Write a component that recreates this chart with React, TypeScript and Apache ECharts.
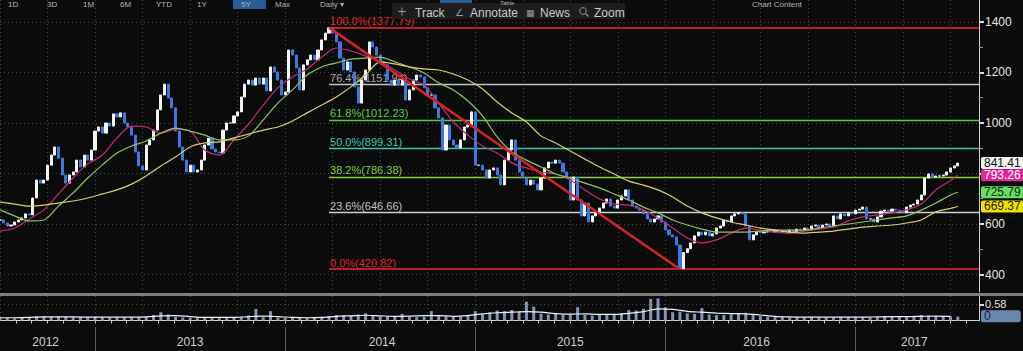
import React, { useEffect, useRef } from "react";
import * as echarts from "echarts";

// ---- time frame (decimal years) ----
const START_YEAR = 2012.5;
const WEEKS_PER_YEAR = 52;
const X_MIN = 2012.5;
const X_MAX = 2017.65;
const MA_STEP = 4; // weeks between moving-average samples
const VOL_STEP = 2; // weeks between volume samples
const PEAK_WEEK = 90;
const TROUGH_WEEK = 186;

// ---- weekly closes ----
const closes = [
  616, 604, 592, 596, 608, 616, 624, 640, 636, 703,
  774, 762, 774, 833, 873, 905, 861, 794, 762, 794,
  806, 853, 826, 873, 853, 893, 968, 984, 960, 1000,
  988, 1036, 1024, 1040, 1000, 984, 952, 885, 830, 814,
  913, 933, 972, 1052, 1111, 1154, 1099, 1060, 968, 905,
  853, 806, 833, 806, 814, 853, 913, 940, 897, 885,
  881, 972, 1000, 1000, 1028, 1044, 1103, 1154, 1170, 1150,
  1178, 1154, 1178, 1127, 1222, 1202, 1170, 1111, 1123, 1289,
  1269, 1218, 1131, 1230, 1250, 1269, 1250, 1289, 1329, 1356,
  1377, 1356, 1321, 1257, 1210, 1242, 1202, 1143, 1079, 1170,
  1210, 1321, 1301, 1269, 1242, 1230, 1170, 1150, 1170, 1150,
  1170, 1091, 1131, 1170, 1190, 1182, 1139, 1111, 1111, 1060,
  1020, 893, 992, 933, 913, 901, 933, 984, 992, 1044,
  833, 833, 814, 782, 814, 822, 794, 755, 853, 893,
  933, 853, 806, 782, 755, 774, 758, 735, 782, 822,
  845, 841, 853, 841, 806, 782, 695, 786, 695, 632,
  683, 608, 632, 644, 663, 683, 699, 671, 663, 695,
  711, 735, 695, 671, 663, 655, 640, 620, 608, 620,
  632, 608, 576, 557, 549, 517, 423, 487, 502, 525,
  553, 568, 557, 568, 553, 561, 584, 592, 616, 608,
  632, 640, 644, 640, 592, 537, 557, 568, 565, 568,
  576, 568, 576, 568, 572, 565, 576, 568, 580, 576,
  584, 576, 592, 596, 584, 596, 600, 592, 632, 620,
  640, 632, 644, 640, 655, 659, 667, 620, 620, 608,
  628, 651, 655, 651, 659, 655, 651, 647, 667, 675,
  679, 695, 715, 782, 798, 786, 790, 790, 794, 806,
  822, 830, 841.41,
];

// ---- moving averages (sampled every 4 weeks) ----
const maFast = [
  572, 584, 620, 656, 719, 782, 838, 873, 941, 988,
  984, 960, 976, 968, 893, 873, 933, 996, 1071, 1139,
  1182, 1214, 1261, 1297, 1285, 1265, 1242, 1210, 1174, 1151,
  1079, 1004, 952, 909, 881, 842, 822, 806, 798, 774,
  735, 699, 679, 675, 656, 624, 584, 545, 525, 537,
  564, 584, 576, 568, 564, 572, 580, 588, 612, 628,
  636, 644, 656, 679, 735, 772,
];
const maMid = [
  656, 632, 612, 616, 671, 723, 782, 834, 881, 909,
  929, 960, 980, 968, 952, 933, 933, 949, 1012, 1079,
  1131, 1190, 1222, 1238, 1253, 1257, 1261, 1242, 1222, 1198,
  1159, 1131, 1087, 1028, 945, 885, 853, 826, 798, 782,
  762, 743, 719, 695, 667, 644, 616, 596, 580, 568,
  568, 568, 572, 576, 576, 576, 584, 592, 600, 608,
  616, 624, 632, 655, 683, 715,
];
const maSlow = [
  687, 679, 671, 675, 683, 691, 703, 719, 735, 758,
  790, 830, 865, 905, 921, 925, 941, 956, 972, 984,
  1008, 1040, 1071, 1103, 1143, 1190, 1242, 1234, 1222, 1214,
  1210, 1194, 1170, 1135, 1083, 1040, 1004, 949, 921, 889,
  857, 826, 798, 770, 754, 735, 707, 671, 644, 624,
  608, 596, 584, 576, 568, 564, 568, 572, 580, 588,
  592, 596, 604, 616, 648, 662,
];
const maLast = [793.26, 725.79, 669.37];

// ---- volume (billions, sampled every 2 weeks) ----
const volume = [
  0.09, 0.09, 0.08, 0.09, 0.12, 0.15, 0.14, 0.13, 0.14, 0.13,
  0.12, 0.13, 0.12, 0.13, 0.12, 0.11, 0.12, 0.11, 0.12, 0.12,
  0.14, 0.2, 0.3, 0.22, 0.13, 0.11, 0.1, 0.1, 0.11, 0.1,
  0.1, 0.11, 0.1, 0.14, 0.18, 0.42, 0.12, 0.34, 0.1, 0.09,
  0.1, 0.09, 0.1, 0.1, 0.12, 0.16, 0.2, 0.18, 0.17, 0.22,
  0.26, 0.2, 0.14, 0.15, 0.13, 0.24, 0.13, 0.12, 0.14, 0.34,
  0.16, 0.15, 0.13, 0.14, 0.2, 0.34, 0.22, 0.3, 0.36, 0.34,
  0.38, 0.32, 0.68, 0.5, 0.25, 0.22, 0.24, 0.2, 0.22, 0.48,
  0.2, 0.18, 0.22, 0.2, 0.22, 0.26, 0.38, 0.36, 0.42, 0.78,
  0.8, 0.48, 0.3, 0.32, 0.26, 0.24, 0.45, 0.22, 0.2, 0.2,
  0.22, 0.26, 0.28, 0.2, 0.16, 0.13, 0.12, 0.12, 0.11, 0.12,
  0.11, 0.13, 0.12, 0.11, 0.12, 0.13, 0.12, 0.11, 0.12, 0.11,
  0.12, 0.16, 0.14, 0.13, 0.15, 0.14, 0.2, 0.18, 0.15, 0.16,
  0.15, 0.14,
];
// volume average (sampled every 4 weeks)
const volumeAvg = [
  0.1, 0.1, 0.11, 0.13, 0.13, 0.13, 0.12, 0.12, 0.12, 0.12,
  0.13, 0.17, 0.18, 0.14, 0.11, 0.11, 0.11, 0.14, 0.16, 0.14,
  0.11, 0.1, 0.11, 0.15, 0.17, 0.19, 0.17, 0.15, 0.16, 0.18,
  0.18, 0.15, 0.18, 0.24, 0.28, 0.3, 0.32, 0.3, 0.25, 0.23,
  0.24, 0.22, 0.22, 0.26, 0.32, 0.42, 0.4, 0.33, 0.3, 0.27,
  0.25, 0.24, 0.2, 0.15, 0.13, 0.12, 0.12, 0.12, 0.12, 0.12,
  0.13, 0.14, 0.14, 0.15, 0.16, 0.15,
];

// ---- Fibonacci retracement ----
const fibPct = ["0.0", "23.6", "38.2", "50.0", "61.8", "76.4", "100.0"];
const fibValues = [420.82, 646.66, 786.38, 899.31, 1012.23, 1151.94, 1377.79];
const fibLineColors = ["#b81f28", "#cfcfcf", "#86d040", "#3cc2a6", "#4fd13f", "#c2c2c2", "#b81f28"];
const fibLabelColors = ["#e0262c", "#c4c4c4", "#84d040", "#40c8b2", "#58d043", "#a8a8a8", "#e0262c"];

// ---- ticks ----
const priceTicks = [400, 600, 800, 1000, 1200, 1400];
const priceLabels = [400, 600, 1000, 1200, 1400]; // 800 sits under the value boxes
const priceMinorTicks = [500, 700, 900, 1100, 1300];
const volumeTicks = [0.58];
const yearLabelPos = [2012.74, 2013.5, 2014.51, 2015.5, 2016.48, 2017.31];
const yearBounds = [2013, 2014, 2015, 2016, 2017];
const periodButtons = ["1D", "3D", "1M", "6M", "YTD", "1Y", "5Y", "Max", "Daily ▾"];

const FONT = "'Liberation Sans', Arial, sans-serif";
const DOT = { color: "#474747", type: [1, 3], width: 1 };

const weekX = (w: number) => START_YEAR + w / WEEKS_PER_YEAR;

function buildOption(): any {
  const candleData = closes.map((c, i) => {
    const o = i === 0 ? c : closes[i - 1];
    return [weekX(i), o, c, Math.min(o, c), Math.max(o, c)];
  });
  const lastWeek = closes.length - 1;
  const maSeries = (arr: number[], last: number) => {
    const pts = arr.map((v, j) => [weekX(j * MA_STEP), v]);
    pts.push([weekX(lastWeek), last]);
    return pts;
  };
  const volData = volume.map((v, k) => [weekX(k * VOL_STEP), v]);
  const volAvgData = volumeAvg.map((v, j) => [weekX(j * MA_STEP), v]);
  const monthTicks: number[] = [];
  for (let m = 1; X_MIN + m / 12 < X_MAX; m++) monthTicks.push(X_MIN + m / 12);

  const valueBox = (value: number, bg: string, fg: string, text?: string, padRight = 3) => ({
    silent: true,
    symbol: ["none", "none"],
    z: 20,
    lineStyle: { color: "rgba(0,0,0,0)", width: 0 },
    data: [{ yAxis: value }],
    label: {
      show: true,
      position: "end",
      distance: 2,
      formatter: () => (text !== undefined ? text : value.toFixed(2)),
      backgroundColor: bg,
      color: fg,
      opacity: 1,
      fontSize: 12,
      lineHeight: 12,
      fontFamily: FONT,
      padding: [0, padRight, 0, 3],
      borderRadius: 2,
    },
  });

  const fibLines = fibValues.map((v, k) => [
    {
      coord: [weekX(PEAK_WEEK), v],
      lineStyle: { color: fibLineColors[k], width: k === 0 || k === 6 ? 2 : 1.4, type: "solid" },
      label: { color: fibLabelColors[k], formatter: `${fibPct[k]}%(${v.toFixed(2)})` },
    },
    { coord: [X_MAX, v] },
  ]);

  const hiddenAxisParts = {
    axisLine: { show: false },
    axisTick: { show: false },
    axisLabel: { show: false },
  };

  const buttonX = [8, 47, 83, 120, 156, 197, 241, 275, 320];

  return {
    animation: false,
    backgroundColor: "#0b0b0b",
    textStyle: { fontFamily: FONT },
    grid: [
      { left: 0, right: 44, top: 0, height: 292 },
      { left: 0, right: 44, top: 296, height: 24.5 },
      { left: 0, right: 44, top: 327, height: 24 },
    ],
    xAxis: [
      {
        gridIndex: 0, type: "value", min: X_MIN, max: X_MAX, interval: 0.25,
        ...hiddenAxisParts,
        splitLine: { show: true, lineStyle: DOT },
      },
      {
        gridIndex: 1, type: "value", position: "top", min: X_MIN, max: X_MAX, interval: 0.25,
        ...hiddenAxisParts,
        splitLine: { show: true, lineStyle: DOT },
      },
      {
        gridIndex: 1, type: "value", position: "bottom", min: X_MIN, max: X_MAX,
        axisLine: { show: true, onZero: false, lineStyle: { color: "#d4d4d4", width: 1 } },
        axisTick: { show: true, customValues: monthTicks, length: 3, lineStyle: { color: "#c8c8c8" } },
        axisLabel: {
          show: true, customValues: yearLabelPos, margin: 15, color: "#cfcfcf", fontSize: 12,
          fontFamily: FONT, formatter: (v: number) => String(Math.floor(v)),
        },
        splitLine: { show: false },
      },
      {
        gridIndex: 2, type: "value", min: X_MIN, max: X_MAX,
        axisLine: { show: false },
        axisTick: { show: false, customValues: yearBounds },
        axisLabel: { show: false },
        splitLine: { show: true, lineStyle: { color: "#5e5e5e", width: 1 } },
      },
    ],
    yAxis: [
      {
        gridIndex: 0, type: "value", position: "right", min: 330.7, max: 1487.1,
        axisLine: { show: true, onZero: false, lineStyle: { color: "#cfcfcf" } },
        axisTick: { show: true, customValues: priceTicks, length: 5, lineStyle: { color: "#d8d8d8", width: 2 } },
        axisLabel: {
          show: true, customValues: priceLabels, margin: 6, color: "#e2e2e2", fontSize: 12, fontFamily: FONT,
          formatter: (v: number) => String(v),
        },
        splitLine: { show: true, lineStyle: DOT },
      },
      {
        gridIndex: 0, type: "value", position: "right", min: 330.7, max: 1487.1,
        axisLine: { show: false },
        axisTick: { show: true, customValues: priceMinorTicks, length: 4, lineStyle: { color: "#9c9c9c" } },
        axisLabel: { show: false },
        splitLine: { show: false },
      },
      {
        gridIndex: 1, type: "value", position: "right", min: 0, max: 0.888,
        axisLine: { show: true, onZero: false, lineStyle: { color: "#cfcfcf" } },
        axisTick: { show: true, customValues: volumeTicks, length: 5, lineStyle: { color: "#d8d8d8", width: 2 } },
        axisLabel: {
          show: true, customValues: volumeTicks, margin: 6, color: "#e2e2e2", fontSize: 11, fontFamily: FONT,
          formatter: (v: number) => v.toFixed(2),
        },
        splitLine: { show: true, lineStyle: DOT },
      },
      { gridIndex: 2, type: "value", min: 0, max: 1, show: false },
    ],
    series: [
      {
        name: "fib",
        type: "line",
        xAxisIndex: 0,
        yAxisIndex: 0,
        data: [],
        z: 1,
        markLine: {
          silent: true,
          z: 1,
          symbol: ["none", "none"],
          label: {
            show: true, position: "insideStartTop", distance: [1, 1], fontSize: 11, fontFamily: FONT,
          },
          data: fibLines,
        },
      },
      {
        name: "price",
        type: "candlestick",
        xAxisIndex: 0,
        yAxisIndex: 0,
        z: 3,
        barWidth: 2.6,
        data: candleData,
        itemStyle: {
          color: "#f4f4f4",
          color0: "#3a7ae0",
          borderColor: "#f4f4f4",
          borderColor0: "#3a7ae0",
          borderWidth: 1,
        },
        markLine: valueBox(closes[lastWeek], "#f2f2f2", "#111111"),
      },
      {
        name: "ma fast",
        type: "line",
        xAxisIndex: 0,
        yAxisIndex: 0,
        z: 4,
        showSymbol: false,
        smooth: 0.3,
        data: maSeries(maFast, maLast[0]),
        lineStyle: { color: "#c42a78", width: 1.2 },
        markLine: valueBox(maLast[0], "#e0289a", "#ffffff"),
      },
      {
        name: "ma mid",
        type: "line",
        xAxisIndex: 0,
        yAxisIndex: 0,
        z: 4,
        showSymbol: false,
        smooth: 0.3,
        data: maSeries(maMid, maLast[1]),
        lineStyle: { color: "#8cc462", width: 1.2 },
        markLine: valueBox(maLast[1], "#66dd66", "#0d2a0d"),
      },
      {
        name: "ma slow",
        type: "line",
        xAxisIndex: 0,
        yAxisIndex: 0,
        z: 4,
        showSymbol: false,
        smooth: 0.3,
        data: maSeries(maSlow, maLast[2]),
        lineStyle: { color: "#d9cf6a", width: 1.2 },
        markLine: valueBox(maLast[2], "#f0e200", "#222200"),
      },
      {
        name: "trend",
        type: "line",
        xAxisIndex: 0,
        yAxisIndex: 0,
        z: 5,
        showSymbol: false,
        data: [
          [weekX(PEAK_WEEK), fibValues[6]],
          [weekX(TROUGH_WEEK), fibValues[0]],
        ],
        lineStyle: { color: "#d42424", width: 2.5 },
      },
      {
        name: "volume",
        type: "bar",
        xAxisIndex: 2,
        yAxisIndex: 2,
        barWidth: 3,
        data: volData,
        itemStyle: { color: "#8494b8" },
      },
      {
        name: "volume avg",
        type: "line",
        xAxisIndex: 2,
        yAxisIndex: 2,
        showSymbol: false,
        smooth: 0.3,
        z: 4,
        data: volAvgData,
        lineStyle: { color: "#f0f0f0", width: 1.2 },
        markLine: valueBox(
          volumeAvg[volumeAvg.length - 1],
          "#6b86ad",
          "#13204a",
          String(Math.round(volumeAvg[volumeAvg.length - 1])),
          30
        ),
      },
    ],
    graphic: [
      // panel separator
      { type: "rect", z: 100, shape: { x: 0, y: 293, width: 1023, height: 3 }, style: { fill: "#7d7d7d" } },
      // top period buttons (at the very top edge)
      { type: "rect", z: 100, shape: { x: 233, y: 0, width: 33, height: 9 }, style: { fill: "#2c5b9a" } },
      { type: "rect", z: 100, shape: { x: 440, y: 0, width: 32, height: 8 }, style: { fill: "#2c5b9a" } },
      ...periodButtons.map((t, k) => ({
        type: "text", z: 101, x: buttonX[k], y: 0,
        style: { text: t, fill: "#b4b4b4", fontSize: 8, fontFamily: FONT, verticalAlign: "top" },
      })),
      { type: "text", z: 101, x: 500, y: 0, style: { text: "Table", fill: "#b4b4b4", fontSize: 6, fontFamily: FONT, verticalAlign: "top" } },
      { type: "text", z: 101, x: 752, y: 0, style: { text: "Chart Content", fill: "#b4b4b4", fontSize: 8, fontFamily: FONT, verticalAlign: "top" } },
      // toolbar
      { type: "rect", z: 100, shape: { x: 392, y: 3, width: 233, height: 16 }, style: { fill: "#1d1d1d" } },
      { type: "line", z: 101, shape: { x1: 398, y1: 11.5, x2: 406, y2: 11.5 }, style: { stroke: "#9a9a9a", lineWidth: 1 } },
      { type: "line", z: 101, shape: { x1: 402, y1: 7.5, x2: 402, y2: 15.5 }, style: { stroke: "#9a9a9a", lineWidth: 1 } },
      { type: "text", z: 101, x: 415, y: 12.5, style: { text: "Track", fill: "#cbcbcb", fontSize: 12, fontFamily: FONT, verticalAlign: "middle" } },
      { type: "text", z: 101, x: 455, y: 12.5, style: { text: "∠", fill: "#9a9a9a", fontSize: 10, fontFamily: "DejaVu Sans", verticalAlign: "middle" } },
      { type: "text", z: 101, x: 470, y: 12.5, style: { text: "Annotate", fill: "#cbcbcb", fontSize: 12, fontFamily: FONT, verticalAlign: "middle" } },
      { type: "text", z: 101, x: 526, y: 12.5, style: { text: "▦", fill: "#9a9a9a", fontSize: 9, fontFamily: "DejaVu Sans", verticalAlign: "middle" } },
      { type: "text", z: 101, x: 540, y: 12.5, style: { text: "News", fill: "#cbcbcb", fontSize: 12, fontFamily: FONT, verticalAlign: "middle" } },
      { type: "circle", z: 101, shape: { cx: 583, cy: 11, r: 3.3 }, style: { fill: "none", stroke: "#9a9a9a", lineWidth: 1 } },
      { type: "line", z: 101, shape: { x1: 585.5, y1: 13.5, x2: 588.5, y2: 16.5 }, style: { stroke: "#9a9a9a", lineWidth: 1.2 } },
      { type: "text", z: 101, x: 594, y: 12.5, style: { text: "Zoom", fill: "#cbcbcb", fontSize: 12, fontFamily: FONT, verticalAlign: "middle" } },
    ],
  };
}

export default function App() {
  const ref = useRef<HTMLDivElement>(null);
  useEffect(() => {
    if (!ref.current) return;
    const chart = echarts.init(ref.current, undefined, { renderer: "svg" });
    chart.setOption(buildOption());
    return () => chart.dispose();
  }, []);
  return (
    <div
      ref={ref}
      style={{ position: "fixed", left: 0, top: 0, width: 1023, height: 351, background: "#0b0b0b" }}
    />
  );
}
